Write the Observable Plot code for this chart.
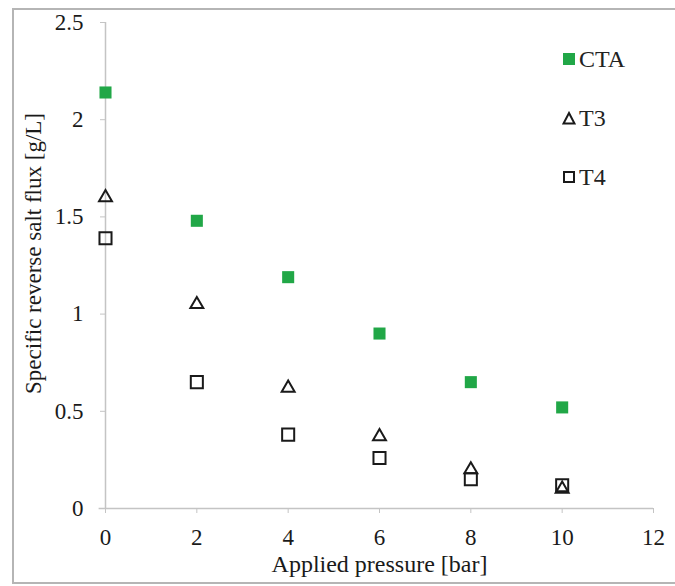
<!DOCTYPE html>
<html>
<head>
<meta charset="utf-8">
<script src="https://cdn.jsdelivr.net/npm/d3@7"></script>
<script src="https://cdn.jsdelivr.net/npm/@observablehq/plot@0.6"></script>
<style>
  body { margin: 0; background: #fff; }
  #wrap { position: relative; width: 675px; height: 586px; overflow: hidden; font-family: "Liberation Serif", "Times New Roman", serif; }
  #frame { position: absolute; left: 12px; top: 8px; width: 680px; height: 576px; border-left: 2px solid #b5b5b5; border-top: 2px solid #b5b5b5; border-bottom: 2px solid #b5b5b5; box-sizing: border-box; }
  #legend { position: absolute; left: 562px; top: 43px; font-size: 24px; color: #222; }
  #legend .item { display: flex; align-items: center; height: 32px; margin-bottom: 27px; }
  #legend svg { margin-right: 3px; }
</style>
</head>
<body>
<div id="wrap">
  <div id="frame"></div>
  <div id="chart"></div>
  <div id="legend"></div>
</div>
<script>
const pressure = [0, 2, 4, 6, 8, 10];
const seriesNames = ["CTA", "T3", "T4"];
const ctaValues = [2.14, 1.48, 1.19, 0.90, 0.65, 0.52];
const t3Values = [1.60, 1.05, 0.62, 0.37, 0.20, 0.10];
const t4Values = [1.39, 0.65, 0.38, 0.26, 0.15, 0.12];
const xTicks = [0, 2, 4, 6, 8, 10, 12];
const yTicks = [0, 0.5, 1, 1.5, 2, 2.5];

const green = "#21a747";
const ink = "#1a1a1a";

const rows = (vals, s) => pressure.map((p, i) => ({pressure: p, flux: vals[i], series: s}));
const cta = rows(ctaValues, "CTA");
const t3 = rows(t3Values, "T3");
const t4 = rows(t4Values, "T4");

const plot = Plot.plot({
  width: 675,
  height: 586,
  marginLeft: 105,
  marginRight: 22,
  marginTop: 22,
  marginBottom: 78,
  style: {fontFamily: "'Liberation Serif', 'Times New Roman', serif", background: "transparent", overflow: "visible"},
  x: {domain: [0, 12]},
  y: {domain: [0, 2.5]},
  marks: [
    Plot.ruleY([0], {stroke: "#c4c4c4", strokeWidth: 1.5, x1: -0.14, x2: 12}),
    Plot.ruleX([0], {stroke: "#c4c4c4", strokeWidth: 1.5}),
    Plot.axisY({ticks: yTicks, tickSize: 5, tickPadding: 17, stroke: "#c4c4c4", fontSize: 23, fill: ink, label: null, tickFormat: d => String(d)}),
    Plot.axisX({ticks: xTicks, tickSize: 5, tickPadding: 15, stroke: "#c4c4c4", fontSize: 23, fill: ink, label: null}),
    Plot.text(["Specific reverse salt flux [g/L]"], {frameAnchor: "left", textAnchor: "middle", rotate: -90, dx: -72, dy: -12, fontSize: 23, fill: ink}),
    Plot.text(["Applied pressure [bar]"], {frameAnchor: "bottom", dy: 63, dx: 0, fontSize: 24, fill: ink}),
    Plot.dot(t4, {x: "pressure", y: "flux", symbol: "square", r: 6.8, stroke: ink, strokeWidth: 2, fill: "none"}),
    Plot.dot(t3, {x: "pressure", y: "flux", symbol: "triangle", r: 4.8, stroke: ink, strokeWidth: 2, fill: "none"}),
    Plot.dot(cta, {x: "pressure", y: "flux", symbol: "square", r: 6.8, fill: green, stroke: "none"})
  ]
});
document.getElementById("chart").appendChild(plot);

// legend
const symbols = {
  CTA: `<svg width="14" height="14"><rect x="1" y="1" width="12" height="12" fill="${green}"/></svg>`,
  T3: `<svg width="14" height="14"><path d="M7 2 L12.5 12.5 L1.5 12.5 Z" fill="none" stroke="${ink}" stroke-width="2" stroke-linejoin="miter"/></svg>`,
  T4: `<svg width="14" height="14"><rect x="2" y="2" width="10" height="10" fill="none" stroke="${ink}" stroke-width="2"/></svg>`
};
const legend = document.getElementById("legend");
seriesNames.forEach(s => {
  const d = document.createElement("div");
  d.className = "item";
  d.innerHTML = symbols[s] + `<span>${s}</span>`;
  legend.appendChild(d);
});
</script>
</body>
</html>
